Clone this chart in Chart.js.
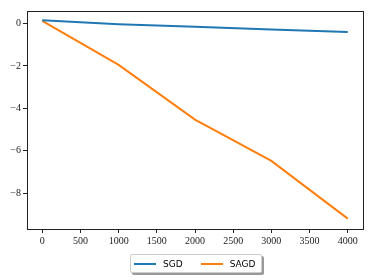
<!DOCTYPE html>
<html>
<head>
<meta charset="utf-8">
<script src="https://cdn.jsdelivr.net/npm/chart.js@4/dist/chart.umd.min.js"></script>
<style>
    html, body { margin: 0; padding: 0; background: #fff; }
    #wrap { position: relative; width: 374px; height: 280px; }
    #legend {
        position: absolute; left: 130px; top: 254px; height: 17px;
        border: 1px solid #ccc; border-radius: 2px; background: #fff;
        box-shadow: 2px 2px 0 #999;
        display: flex; align-items: center; padding: 0 6px 0 3px;
        font: 9px "DejaVu Sans", sans-serif; color: #000;
    }
    #legend .item { display: flex; align-items: center; margin-right: 18px; }
    #legend .item:last-child { margin-right: 0; }
    #legend .swatch { width: 22px; height: 2px; margin-right: 7px; }
</style>
</head>
<body>
<div id="wrap">
    <canvas id="chart" width="374" height="280"></canvas>
    <div id="legend"></div>
</div>
<script>
    // Datos
    var steps = [0, 1000, 2000, 3000, 4000];
    var sgdValues = [0.15, -0.03, -0.15, -0.28, -0.40];
    var sagdValues = [0.12, -1.95, -4.53, -6.48, -9.20];
    var xTicks = [0, 500, 1000, 1500, 2000, 2500, 3000, 3500, 4000];
    var yTicks = [0, -2, -4, -6, -8];

    function toPoints(xs, ys) {
        return xs.map(function(x, i) { return { x: x, y: ys[i] }; });
    }

    function fixTicks(list) {
        return function(scale) {
            scale.ticks = list.map(function(v) { return { value: v }; });
        };
    }

    var tickFont = { family: '"Liberation Serif", serif', size: 10 };

    // Marco completo alrededor del area (estilo matplotlib)
    var frame = {
        id: 'frame',
        afterDraw: function(chart) {
            var a = chart.chartArea;
            var c = chart.ctx;
            c.save();
            c.strokeStyle = '#222';
            c.lineWidth = 1;
            c.strokeRect(Math.round(a.left) + 0.5, Math.round(a.top) + 0.5,
                Math.round(a.right - a.left), Math.round(a.bottom - a.top));
            c.restore();
        }
    };

    var chart = new Chart(document.getElementById('chart'), {
        type: 'line',
        data: {
            datasets: [
                {
                    label: 'SGD',
                    data: toPoints(steps, sgdValues),
                    borderColor: '#1f77b4',
                    borderWidth: 2,
                    pointRadius: 0,
                    tension: 0,
                },
                {
                    label: 'SAGD',
                    data: toPoints(steps, sagdValues),
                    borderColor: '#ff7f0e',
                    borderWidth: 2,
                    pointRadius: 0,
                    tension: 0,
                },
            ],
        },
        options: {
            responsive: false,
            animation: false,
            layout: { padding: { top: 11, right: 11, left: 0, bottom: 0 } },
            plugins: {
                legend: { display: false },
                tooltip: { enabled: false },
            },
            scales: {
                x: {
                    type: 'linear',
                    min: -200,
                    max: 4200,
                    afterBuildTicks: fixTicks(xTicks),
                    afterFit: function(s) { s.height = 51; },
                    grid: { drawOnChartArea: false, tickLength: 4, color: '#222' },
                    border: { display: false },
                    ticks: {
                        color: '#222', font: tickFont, padding: 2, maxRotation: 0,
                        callback: function(v) { return String(v); },
                    },
                },
                y: {
                    type: 'linear',
                    min: -9.69,
                    max: 0.59,
                    afterBuildTicks: fixTicks(yTicks),
                    afterFit: function(s) { s.width = 27; },
                    grid: { drawOnChartArea: false, tickLength: 4, color: '#222' },
                    border: { display: false },
                    ticks: {
                        color: '#222', font: tickFont, padding: 2,
                        callback: function(v) { return v < 0 ? '\u2212' + Math.abs(v) : String(v); },
                    },
                },
            },
        },
        plugins: [frame],
    });

    // Leyenda en HTML debajo del grafico
    var html = '';
    chart.data.datasets.forEach(function(ds) {
        html += '<div class="item"><span class="swatch" style="background:' + ds.borderColor + '"></span>' + ds.label + '</div>';
    });
    document.getElementById('legend').innerHTML = html;
</script>
</body>
</html>
